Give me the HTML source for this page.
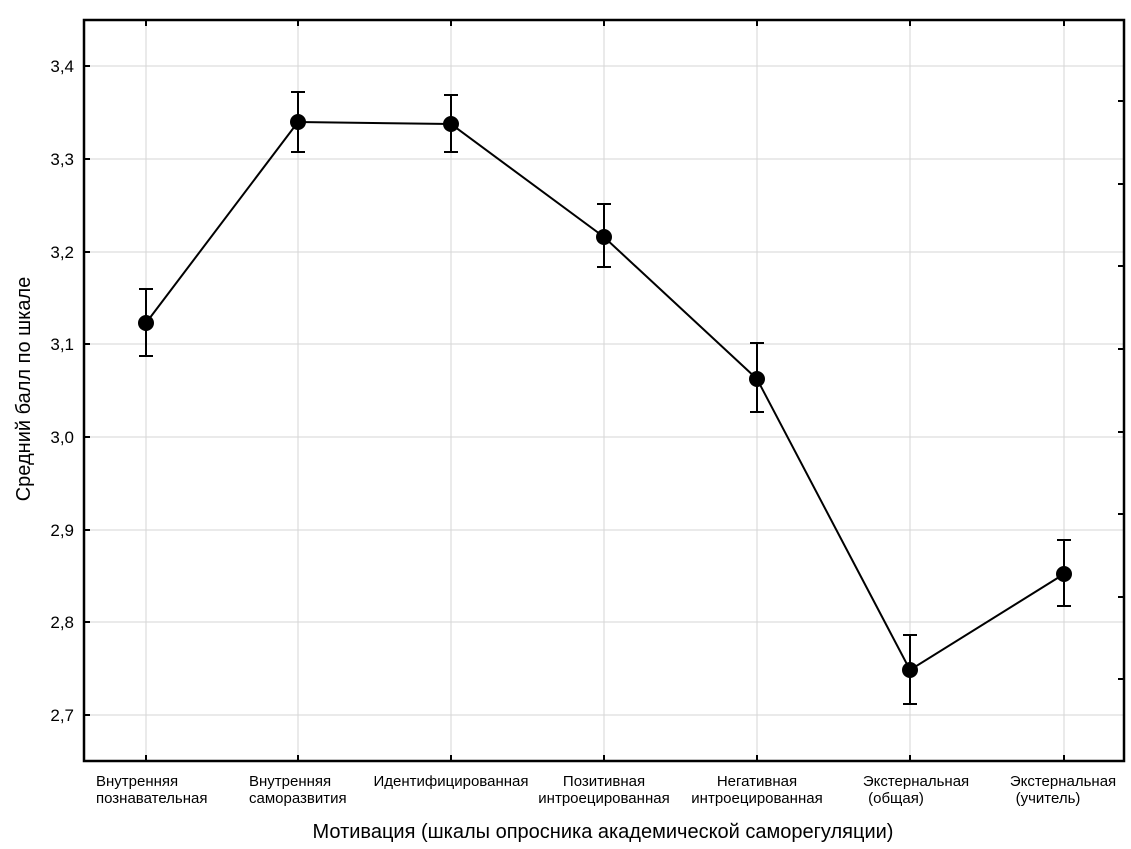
<!DOCTYPE html>
<html><head><meta charset="utf-8"><style>
body{margin:0;background:#fff}
svg{display:block;font-family:"Liberation Sans",Arial,sans-serif}
</style></head><body>
<svg width="1131" height="849" viewBox="0 0 1131 849">
<g stroke="#d6d6d6" stroke-width="1">
<line x1="146" y1="20" x2="146" y2="761"/><line x1="298" y1="20" x2="298" y2="761"/>
<line x1="451" y1="20" x2="451" y2="761"/><line x1="604" y1="20" x2="604" y2="761"/>
<line x1="757" y1="20" x2="757" y2="761"/><line x1="910" y1="20" x2="910" y2="761"/>
<line x1="1064" y1="20" x2="1064" y2="761"/>
<line x1="84" y1="66" x2="1124" y2="66"/><line x1="84" y1="159" x2="1124" y2="159"/>
<line x1="84" y1="252" x2="1124" y2="252"/><line x1="84" y1="344" x2="1124" y2="344"/>
<line x1="84" y1="437" x2="1124" y2="437"/><line x1="84" y1="530" x2="1124" y2="530"/>
<line x1="84" y1="622" x2="1124" y2="622"/><line x1="84" y1="715" x2="1124" y2="715"/>
</g>
<rect x="84" y="20" width="1040" height="741" fill="none" stroke="#000" stroke-width="2.5"/>
<g stroke="#000" stroke-width="2">
<line x1="84" y1="66" x2="90" y2="66"/><line x1="84" y1="159" x2="90" y2="159"/>
<line x1="84" y1="252" x2="90" y2="252"/><line x1="84" y1="344" x2="90" y2="344"/>
<line x1="84" y1="437" x2="90" y2="437"/><line x1="84" y1="530" x2="90" y2="530"/>
<line x1="84" y1="622" x2="90" y2="622"/><line x1="84" y1="715" x2="90" y2="715"/>
<line x1="146" y1="761" x2="146" y2="755"/><line x1="298" y1="761" x2="298" y2="755"/>
<line x1="451" y1="761" x2="451" y2="755"/><line x1="604" y1="761" x2="604" y2="755"/>
<line x1="757" y1="761" x2="757" y2="755"/><line x1="910" y1="761" x2="910" y2="755"/>
<line x1="1064" y1="761" x2="1064" y2="755"/>
<line x1="146" y1="20" x2="146" y2="26"/><line x1="298" y1="20" x2="298" y2="26"/>
<line x1="451" y1="20" x2="451" y2="26"/><line x1="604" y1="20" x2="604" y2="26"/>
<line x1="757" y1="20" x2="757" y2="26"/><line x1="910" y1="20" x2="910" y2="26"/>
<line x1="1064" y1="20" x2="1064" y2="26"/>
<line x1="1124" y1="101" x2="1118" y2="101"/><line x1="1124" y1="184" x2="1118" y2="184"/>
<line x1="1124" y1="266" x2="1118" y2="266"/><line x1="1124" y1="349" x2="1118" y2="349"/>
<line x1="1124" y1="432" x2="1118" y2="432"/><line x1="1124" y1="514" x2="1118" y2="514"/>
<line x1="1124" y1="597" x2="1118" y2="597"/><line x1="1124" y1="679" x2="1118" y2="679"/>
</g>
<g font-size="17" fill="#000" text-anchor="end">
<text x="74" y="72">3,4</text><text x="74" y="165">3,3</text><text x="74" y="258">3,2</text>
<text x="74" y="350">3,1</text><text x="74" y="443">3,0</text><text x="74" y="536">2,9</text>
<text x="74" y="628">2,8</text><text x="74" y="721">2,7</text>
</g>
<polyline fill="none" stroke="#000" stroke-width="2" points="146,323 298,122 451,124 604,237 757,379 910,670 1064,574"/>
<g stroke="#000" stroke-width="2">
<path d="M146 289V356M139 289H153M139 356H153"/>
<path d="M298 92V152M291 92H305M291 152H305"/>
<path d="M451 95V152M444 95H458M444 152H458"/>
<path d="M604 204V267M597 204H611M597 267H611"/>
<path d="M757 343V412M750 343H764M750 412H764"/>
<path d="M910 635V704M903 635H917M903 704H917"/>
<path d="M1064 540V606M1057 540H1071M1057 606H1071"/>
</g>
<g fill="#000">
<circle cx="146" cy="323" r="8"/><circle cx="298" cy="122" r="8"/><circle cx="451" cy="124" r="8"/>
<circle cx="604" cy="237" r="8"/><circle cx="757" cy="379" r="8"/><circle cx="910" cy="670" r="8"/>
<circle cx="1064" cy="574" r="8"/>
</g>
<g font-size="15" fill="#000">
<text x="96" y="786">Внутренняя</text><text x="96" y="803">познавательная</text>
<text x="249" y="786">Внутренняя</text><text x="249" y="803">саморазвития</text>
</g>
<g font-size="15" fill="#000" text-anchor="middle">
<text x="451" y="786">Идентифицированная</text>
<text x="604" y="786">Позитивная</text><text x="604" y="803">интроецированная</text>
<text x="757" y="786">Негативная</text><text x="757" y="803">интроецированная</text>
<text x="916" y="786">Экстернальная</text><text x="896" y="803">(общая)</text>
<text x="1063" y="786">Экстернальная</text><text x="1048" y="803">(учитель)</text>
</g>
<text x="603" y="838" font-size="20" text-anchor="middle">Мотивация (шкалы опросника академической саморегуляции)</text>
<text transform="translate(30,389) rotate(-90)" font-size="20" text-anchor="middle">Средний балл по шкале</text>
</svg>
</body></html>
